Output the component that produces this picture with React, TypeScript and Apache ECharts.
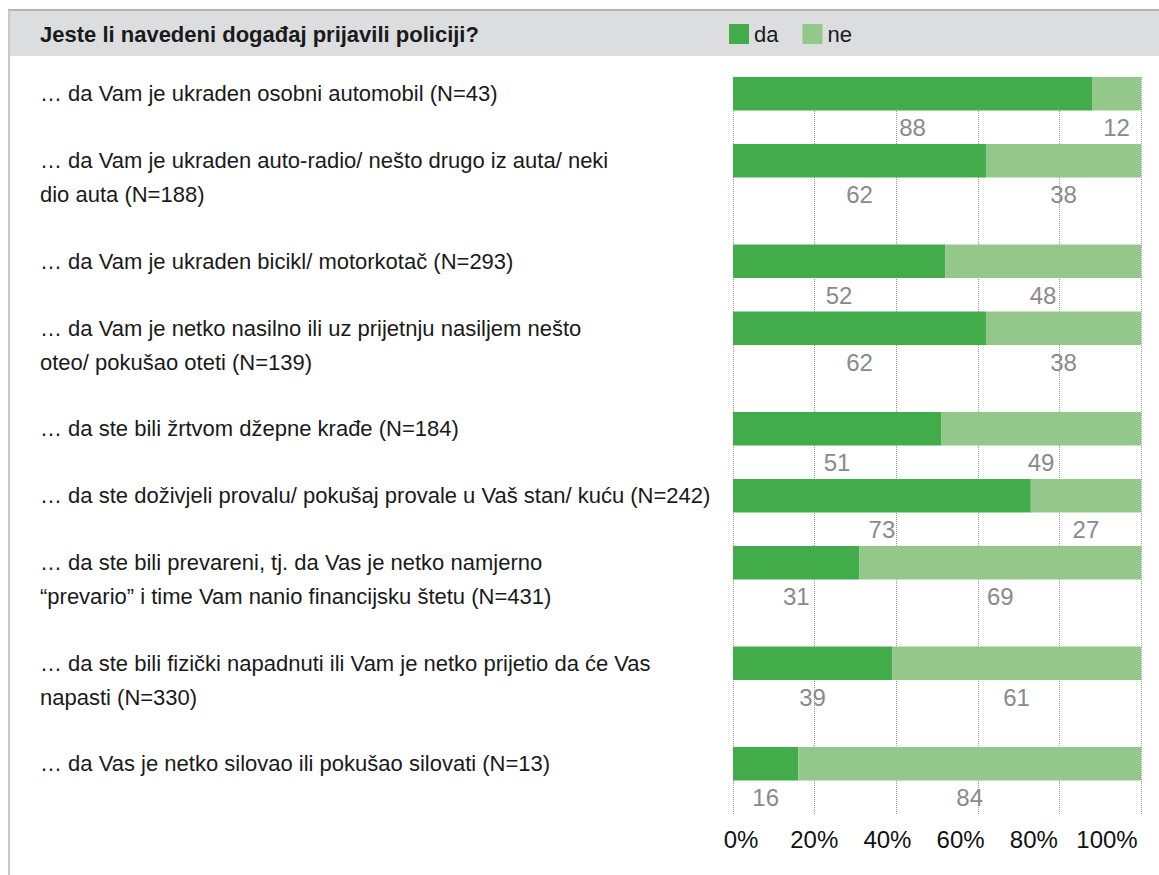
import React, { useEffect, useRef } from "react";
import * as echarts from "echarts";

const titleText = "Jeste li navedeni događaj prijavili policiji?";
const seriesNames = ["da", "ne"];
const categories = [
  "… da Vam je ukraden osobni automobil (N=43)",
  "… da Vam je ukraden auto-radio/ nešto drugo iz auta/ neki\ndio auta (N=188)",
  "… da Vam je ukraden bicikl/ motorkotač (N=293)",
  "… da Vam je netko nasilno ili uz prijetnju nasiljem nešto\noteo/ pokušao oteti (N=139)",
  "… da ste bili žrtvom džepne krađe (N=184)",
  "… da ste doživjeli provalu/ pokušaj provale u Vaš stan/ kuću (N=242)",
  "… da ste bili prevareni, tj. da Vas je netko namjerno\n“prevario” i time Vam nanio financijsku štetu (N=431)",
  "… da ste bili fizički napadnuti ili Vam je netko prijetio da će Vas\nnapasti (N=330)",
  "… da Vas je netko silovao ili pokušao silovati (N=13)",
];
const daValues = [88, 62, 52, 62, 51, 73, 31, 39, 16];
const neValues = [12, 38, 48, 38, 49, 27, 69, 61, 84];
const tickValues = [0, 20, 40, 60, 80, 100];

const FONT = "'Liberation Sans', Arial, sans-serif";
const DA_COLOR = "#42ac4a";
const NE_COLOR = "#94c78a";

export default function App() {
  const ref = useRef<HTMLDivElement>(null);

  useEffect(() => {
    if (!ref.current) return;
    const chart = echarts.init(ref.current, undefined, { renderer: "svg" });

    // Each category takes (lines + 1) rows: the bar row plus the rows below it
    const slotLabels: string[] = [];
    const daSlots: (number | null)[] = [];
    const neSlots: (number | null)[] = [];
    categories.forEach((c, i) => {
      const lines = c.split("\n");
      const n = lines.length;
      // prepend blank lines so the first real line is centred on the bar row
      const padded = Array(n - 1).fill(" ").concat(lines).join("\n");
      slotLabels.push(padded);
      daSlots.push(daValues[i]);
      neSlots.push(neValues[i]);
      for (let k = 0; k < n; k++) {
        slotLabels.push("");
        daSlots.push(null);
        neSlots.push(null);
      }
    });

    const valueLabel = {
      show: true,
      position: "inside",
      offset: [0, 34],
      color: "#8a8a8a",
      fontSize: 24,
      fontFamily: FONT,
      formatter: (p: any) => (p.value == null ? "" : String(p.value)),
    };

    chart.setOption({
      animation: false,
      textStyle: { fontFamily: FONT },
      title: {
        text: titleText,
        left: 35,
        top: 18,
        textStyle: { fontSize: 22, fontWeight: "bold", color: "#1a1a1a", fontFamily: FONT },
      },
      legend: {
        data: seriesNames,
        left: 724,
        top: 18,
        icon: "rect",
        itemWidth: 20,
        itemHeight: 20,
        itemGap: 24,
        textStyle: { fontSize: 22, color: "#1a1a1a", fontFamily: FONT },
      },
      graphic: [
        {
          type: "rect",
          shape: { x: 10, y: 11, width: 1149, height: 45 },
          style: { fill: "#dcdddf" },
          z: -10,
        },
        {
          type: "line",
          shape: { x1: 8, y1: 10, x2: 1159, y2: 10 },
          style: { stroke: "#b4b4b4", lineWidth: 2 },
        },
        {
          type: "line",
          shape: { x1: 9, y1: 10, x2: 9, y2: 875 },
          style: { stroke: "#c8c8c8", lineWidth: 2 },
        },
      ],
      grid: [
        { left: 733, right: 18, top: 77, bottom: 61, containLabel: false },
        { left: 741, width: 366, top: 77, bottom: 61, containLabel: false },
      ],
      xAxis: [
        {
          type: "value",
          gridIndex: 0,
          min: 0,
          max: 100,
          interval: 20,
          axisLabel: { show: false },
          axisLine: { show: false },
          axisTick: { show: false },
          splitLine: { show: true, lineStyle: { type: "dotted", color: "#9a9a9a", width: 1 } },
        },
        {
          type: "value",
          gridIndex: 1,
          min: 0,
          max: 100,
          interval: 20,
          axisLabel: {
            show: true,
            margin: 13,
            fontSize: 24,
            color: "#111",
            fontFamily: FONT,
            formatter: (v: number) => (tickValues.includes(v) ? v + "%" : ""),
          },
          axisLine: { show: false },
          axisTick: { show: false },
          splitLine: { show: false },
        },
      ],
      yAxis: [
        {
          type: "category",
          gridIndex: 0,
          inverse: true,
          data: slotLabels,
          axisLine: { show: false },
          axisTick: { show: false },
          splitLine: { show: false },
          axisLabel: {
            interval: 0,
            align: "left",
            margin: 693,
            fontSize: 22,
            lineHeight: 34,
            color: "#1a1a1a",
            fontFamily: FONT,
          },
        },
        {
          type: "value",
          gridIndex: 1,
          show: false,
        },
      ],
      series: [
        {
          name: seriesNames[0],
          type: "bar",
          stack: "total",
          xAxisIndex: 0,
          yAxisIndex: 0,
          barCategoryGap: "0%",
          itemStyle: { color: DA_COLOR },
          label: valueLabel,
          data: daSlots,
        },
        {
          name: seriesNames[1],
          type: "bar",
          stack: "total",
          xAxisIndex: 0,
          yAxisIndex: 0,
          barCategoryGap: "0%",
          itemStyle: { color: NE_COLOR },
          label: valueLabel,
          data: neSlots,
        },
      ],
    });

    return () => chart.dispose();
  }, []);

  return (
    <div
      ref={ref}
      style={{ position: "absolute", left: 0, top: 0, width: 1159, height: 875, background: "#fff" }}
    />
  );
}
